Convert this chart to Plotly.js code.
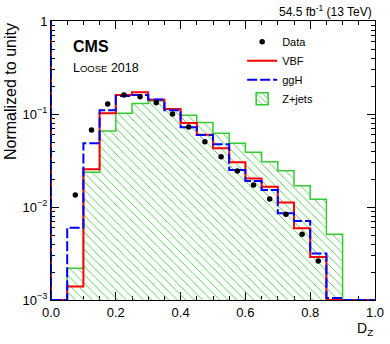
<!DOCTYPE html>
<html>
<head>
<meta charset="utf-8">
<script src="https://cdn.plot.ly/plotly-3.0.1.min.js"></script>
<style>
  html, body { margin: 0; padding: 0; background: #ffffff; }
  #plot { width: 390px; height: 344px; }
</style>
</head>
<body>
<div id="plot"></div>
<script>
// bin edges of the D_Z histograms (20 bins, width 0.05)
const binEdges = [0.0, 0.05, 0.1, 0.15, 0.2, 0.25, 0.3, 0.35, 0.4, 0.45, 0.5,
  0.55, 0.6, 0.65, 0.7, 0.75, 0.8, 0.85, 0.9, 0.95, 1.0];

// normalized contents (0 = empty bin)
const vbfValues = [0, 0.0014, 0.0254, 0.1016, 0.160, 0.171, 0.142, 0.113, 0.080, 0.060,
  0.0428, 0.0302, 0.0203, 0.0165, 0.0112, 0.0059, 0.0029, 0, 0, 0];
const gghValues = [0, 0.0060, 0.0484, 0.110, 0.156, 0.160, 0.143, 0.110, 0.072, 0.0594,
  0.0472, 0.0250, 0.0190, 0.0152, 0.00855, 0.00707, 0.00316, 0.00105, 0, 0];
const zjetsValues = [0, 0.0022, 0.0236, 0.0657, 0.1016, 0.130, 0.138, 0.114, 0.097, 0.081,
  0.062, 0.0484, 0.0387, 0.0307, 0.0246, 0.0169, 0.0121, 0.00508, 0, 0];

// data points at bin centres
const dataX = [0.075, 0.125, 0.175, 0.225, 0.275, 0.325, 0.375, 0.425, 0.475, 0.525,
  0.575, 0.625, 0.675, 0.725, 0.775, 0.825];
const dataY = [0.0135, 0.0673, 0.128, 0.160, 0.153, 0.132, 0.100, 0.0725, 0.0504, 0.0347,
  0.0244, 0.0172, 0.0122, 0.00834, 0.0051, 0.00263];

const yTickVals = [0.001, 0.01, 0.1, 1];
const yTickText = ["10<sup>\u22123</sup>", "10<sup>\u22122</sup>", "10<sup>\u22121</sup>", "1"];
const xTickVals = [0, 0.2, 0.4, 0.6, 0.8, 1.0];
const xTickText = ["0.0", "0.2", "0.4", "0.6", "0.8", "1.0"];

const yFloor = 0.001;
const font = "Liberation Sans, Arial, Helvetica, sans-serif";

// ROOT style: empty bins sit on the bottom of the frame
function stepXY(values) {
  const y = values.map((v) => (v > 0 ? v : yFloor));
  y.push(y[y.length - 1]);
  return { x: binEdges.slice(), y };
}

const minorY = [];
for (let e = -3; e < 0; e++) {
  for (let m = 2; m <= 9; m++) minorY.push(m * Math.pow(10, e));
}

const zStep = stepXY(zjetsValues);
const vbfStep = stepXY(vbfValues);
const gghStep = stepXY(gghValues);

const green = "#33cc33";

const traces = [
  {
    type: "scatter", mode: "lines", name: "Z+jets", showlegend: false,
    x: zStep.x, y: zStep.y,
    line: { shape: "hv", color: green, width: 1.5 },
    fill: "tozeroy",
    fillcolor: "rgba(0,0,0,0)",
    fillpattern: { shape: "\\", fgcolor: "#44cc44", bgcolor: "rgba(0,0,0,0)", size: 6, solidity: 0.15 },
    hoverinfo: "skip"
  },
  {
    type: "bar", name: "Z+jets", x: [null], y: [null], legendrank: 4,
    marker: {
      color: "rgba(0,0,0,0)",
      line: { color: green, width: 1.5 },
      pattern: { shape: "\\", fgcolor: "#44cc44", bgcolor: "rgba(0,0,0,0)", size: 5, solidity: 0.2 }
    }
  },
  {
    type: "scatter", mode: "lines", name: "VBF", legendrank: 2,
    x: vbfStep.x, y: vbfStep.y,
    line: { shape: "hv", color: "#ff0000", width: 2 }
  },
  {
    type: "scatter", mode: "lines", name: "ggH", legendrank: 3,
    x: gghStep.x, y: gghStep.y,
    line: { shape: "hv", color: "#0000ff", width: 2, dash: "10px,3px" }
  },
  {
    type: "scatter", mode: "markers", name: "Data", legendrank: 1,
    x: dataX, y: dataY,
    marker: { color: "#000000", size: 5.5, symbol: "circle" }
  }
];

const layout = {
  width: 390,
  height: 344,
  margin: { l: 51, r: 15, t: 21, b: 44 },
  paper_bgcolor: "#ffffff",
  plot_bgcolor: "#ffffff",
  font: { family: font, size: 13, color: "#000000" },
  showlegend: true,
  xaxis: {
    range: [0, 1],
    tickmode: "array",
    tickvals: xTickVals,
    ticktext: xTickText,
    ticks: "inside",
    ticklen: 8,
    tickcolor: "#000000",
    minor: { dtick: 0.05, tick0: 0, ticks: "inside", ticklen: 4, tickcolor: "#000000", showgrid: false },
    showline: true,
    linecolor: "#000000",
    linewidth: 1,
    mirror: "ticks",
    showgrid: false,
    zeroline: false,
    tickfont: { size: 13 },
    layer: "below traces"
  },
  yaxis: {
    type: "log",
    range: [-3, 0],
    tickmode: "array",
    tickvals: yTickVals,
    ticktext: yTickText,
    ticks: "inside",
    ticklen: 8,
    tickcolor: "#000000",
    minor: { tickmode: "array", tickvals: minorY, ticks: "inside", ticklen: 4, tickcolor: "#000000", showgrid: false },
    showline: true,
    linecolor: "#000000",
    linewidth: 1,
    mirror: "ticks",
    showgrid: false,
    zeroline: false,
    tickfont: { size: 13 },
    layer: "below traces"
  },
  legend: {
    x: 0.59,
    y: 0.978,
    xanchor: "left",
    yanchor: "top",
    bgcolor: "rgba(0,0,0,0)",
    borderwidth: 0,
    itemwidth: 30,
    tracegroupgap: 0,
    font: { size: 11 }
  },
  annotations: [
    {
      text: "<b>CMS</b>", xref: "paper", yref: "paper", x: 0.063, y: 0.907,
      xanchor: "left", yanchor: "middle", showarrow: false, font: { size: 16 }
    },
    {
      text: "L<span style=\"font-size:9.5px\">OOSE</span> 2018", xref: "paper", yref: "paper",
      x: 0.063, y: 0.832, xanchor: "left", yanchor: "middle", showarrow: false, font: { size: 12.5 }
    },
    {
      text: "54.5 fb<sup>-1</sup> (13 TeV)", xref: "paper", yref: "paper", x: 0.998, y: 1.035,
      xanchor: "right", yanchor: "middle", showarrow: false, font: { size: 12 }
    },
    {
      text: "Normalized to unity", xref: "paper", yref: "paper", x: -0.125, y: 1.0,
      xanchor: "center", yanchor: "top", textangle: -90, showarrow: false, font: { size: 16 }
    },
    {
      text: "D<sub>Z</sub>", xref: "paper", yref: "paper", x: 1.0, y: -0.105,
      xanchor: "right", yanchor: "middle", showarrow: false, font: { size: 14 }
    }
  ],
  shapes: [
    // histogram edges drawn along the left frame, as ROOT does
    { type: "line", xref: "x", yref: "paper", x0: 0, x1: 0, y0: 0, y1: 1, line: { color: "#ff0000", width: 2 } },
    { type: "line", xref: "x", yref: "paper", x0: 0, x1: 0, y0: 0, y1: 1, line: { color: "#0000ff", width: 2, dash: "10px,3px" } }
  ]
};

Plotly.newPlot("plot", traces, layout, { displayModeBar: false, staticPlot: true });
</script>
</body>
</html>
